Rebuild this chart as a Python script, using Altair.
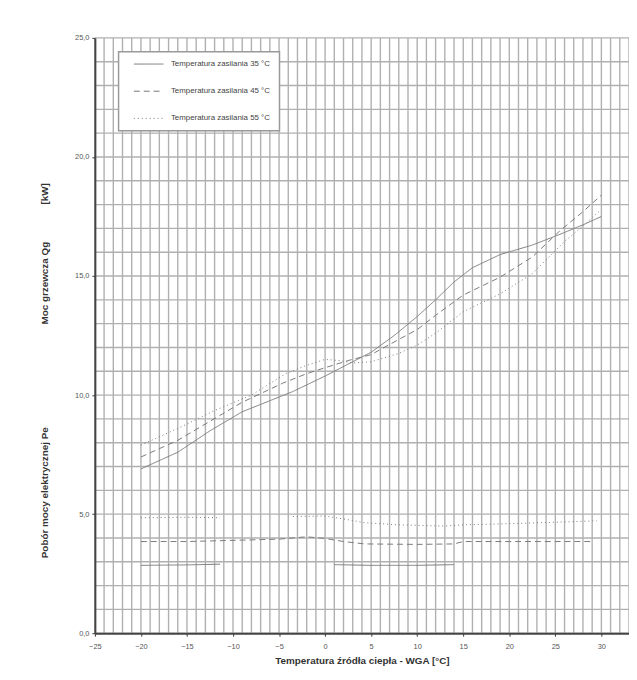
import altair as alt
import pandas as pd

# ---- legend / series ----
series_labels = ["Temperatura zasilania 35 °C", "Temperatura zasilania 45 °C", "Temperatura zasilania 55 °C"]
series_dash = [[1, 0], [6, 4], [1, 3]]

# ---- heating power Qg [kW] ----
qg35_x = [-20, -16, -12.5, -9, -3.5, 0, 2.5, 5, 7.5, 10, 12, 14, 16, 19, 22.5, 25.5, 28, 30]
qg35_y = [6.9, 7.6, 8.5, 9.3, 10.15, 10.8, 11.3, 11.8, 12.5, 13.3, 14.0, 14.75, 15.35, 15.9, 16.3, 16.75, 17.15, 17.5]
qg45_x = [-20, -16, -12.5, -9, -4.6, -2, 0, 2.5, 5, 8.3, 10, 12, 15, 19, 22.5, 25.5, 28, 30]
qg45_y = [7.4, 8.1, 8.9, 9.7, 10.5, 10.9, 11.15, 11.45, 11.7, 12.4, 12.75, 13.35, 14.2, 14.95, 15.8, 16.9, 17.7, 18.4]
qg55_x = [-20, -16, -12, -8, -4.3, -2, 0, 1.5, 3, 5, 8, 10, 12, 15, 19, 22.5, 26, 28, 30]
qg55_y = [7.9, 8.6, 9.35, 10.0, 10.9, 11.25, 11.5, 11.45, 11.35, 11.4, 11.75, 12.1, 12.6, 13.5, 14.25, 15.1, 16.45, 17.1, 17.8]

# ---- electric power Pe (visible segments) ----
pe35a_x = [-20, -15, -11.4]
pe35a_y = [2.85, 2.87, 2.9]
pe35b_x = [1, 5, 10, 14]
pe35b_y = [2.88, 2.85, 2.85, 2.88]
pe45_x = [-20, -15, -10, -5, -2, 0, 2, 4.3, 10, 14, 15, 20, 25, 29]
pe45_y = [3.85, 3.85, 3.9, 3.95, 4.05, 3.98, 3.85, 3.75, 3.73, 3.75, 3.85, 3.85, 3.85, 3.85]
pe55a_x = [-20, -15, -11.4]
pe55a_y = [4.85, 4.87, 4.85]
pe55b_x = [-3.5, 0, 2, 4.3, 8, 12.9, 15, 20, 25, 29.5]
pe55b_y = [4.9, 4.92, 4.8, 4.64, 4.55, 4.5, 4.55, 4.6, 4.66, 4.72]

# ---- axes / grid ----
x_ticks = [-25, -20, -15, -10, -5, 0, 5, 10, 15, 20, 25, 30]
y_ticks = [0, 5, 10, 15, 20, 25]
grid_x = list(range(-25, 34))
grid_y = list(range(0, 26))

ytitle_text = ["[kW]", "Moc grzewcza Qg", "Pobór mocy elektrycznej Pe"]
ytitle_pos = [18.45, 14.7, 5.9]

rows = []
def add(xs, ys, s, seg):
    for a, b in zip(xs, ys):
        rows.append({"t": a, "v": b, "seria": series_labels[s], "seg": seg})

add(qg35_x, qg35_y, 0, "q35")
add(qg45_x, qg45_y, 1, "q45")
add(qg55_x, qg55_y, 2, "q55")
add(pe35a_x, pe35a_y, 0, "p35a")
add(pe35b_x, pe35b_y, 0, "p35b")
add(pe45_x, pe45_y, 1, "p45")
add(pe55a_x, pe55a_y, 2, "p55a")
add(pe55b_x, pe55b_y, 2, "p55b")
df = pd.DataFrame(rows)

xscale = alt.Scale(domain=[-25, 33], nice=False, zero=False)
yscale = alt.Scale(domain=[0, 25], nice=False, zero=False)

xaxis = alt.Axis(values=x_ticks, format="d", grid=False, title="Temperatura źródła ciepła - WGA [°C]",
                 labelFontSize=7.5, labelColor="#555", tickColor="#333", tickSize=3, domainColor="#444",
                 domainWidth=2, titleFontSize=10, titleFontWeight="bold", titleColor="#333",
                 titlePadding=6, labelPadding=6, zindex=1, labelFlush=False)
yaxis = alt.Axis(values=y_ticks, grid=False, title=None,
                 labelExpr="replace(format(datum.value, '.1f'), '.', ',')",
                 labelFontSize=7.5, labelColor="#555", tickColor="#333", tickSize=3, domainColor="#444",
                 domainWidth=2, labelPadding=3, zindex=1)

grid_color = "#b0b0b0"
vgrid = alt.Chart(pd.DataFrame({"t": grid_x})).mark_rule(color=grid_color, strokeWidth=1.4).encode(
    x=alt.X("t:Q", scale=xscale, axis=xaxis))
hgrid = alt.Chart(pd.DataFrame({"v": grid_y})).mark_rule(color=grid_color, strokeWidth=1.4).encode(
    y=alt.Y("v:Q", scale=yscale, axis=yaxis))

legend_box = alt.Chart(pd.DataFrame({"a": [0]})).mark_rect(
    fill="white", stroke="#999", strokeWidth=1.5).encode(
    x=alt.value(24), x2=alt.value(187), y=alt.value(14), y2=alt.value(94))

lines = alt.Chart(df).mark_line(color="#7a7a7a", strokeWidth=1).encode(
    x=alt.X("t:Q", scale=xscale, axis=xaxis),
    y=alt.Y("v:Q", scale=yscale, axis=yaxis),
    detail="seg:N",
    order="t:Q",
    strokeDash=alt.StrokeDash(
        "seria:N",
        scale=alt.Scale(domain=series_labels, range=series_dash),
        legend=alt.Legend(orient="none", legendX=39, legendY=11, title=None, symbolType="stroke",
                          symbolSize=900, symbolStrokeColor="#777", symbolStrokeWidth=1,
                          labelFontSize=8, labelColor="#444", padding=0, rowPadding=7.5,
                          labelOffset=7),
    ),
)

ytitles = alt.Chart(pd.DataFrame({"txt": ytitle_text, "v": ytitle_pos})).mark_text(
    angle=270, align="center", baseline="middle", fontSize=10, fontWeight="bold", color="#333").encode(
    x=alt.value(-50),
    y=alt.Y("v:Q", scale=yscale, axis=yaxis),
    text="txt:N",
)

chart = alt.layer(vgrid, hgrid, legend_box, lines, ytitles).properties(
    width=541, height=603,
    padding={"left": 88, "top": 26, "right": 0, "bottom": 35},
    autosize=alt.AutoSizeParams(type="none"),
    background="white",
).configure(font="Liberation Sans").configure_view(stroke=None)

chart.save("out.html", embed_options={"renderer": "svg", "actions": False})
